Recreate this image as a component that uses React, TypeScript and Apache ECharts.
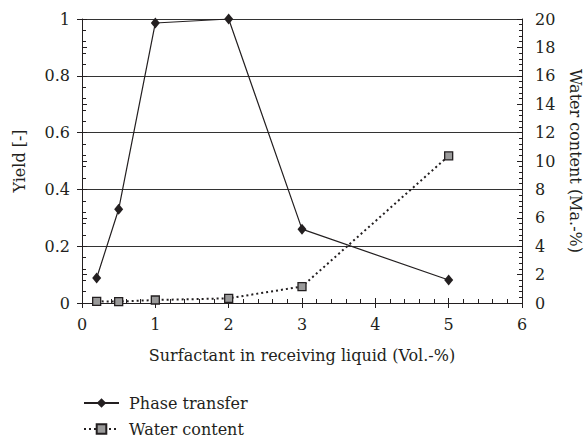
import React, { useEffect, useRef } from "react";
import * as echarts from "echarts";

const xValues = [0.2, 0.5, 1, 2, 3, 5];
const phaseTransfer = [0.088, 0.33, 0.986, 1.0, 0.26, 0.081];
const waterContent = [0.12, 0.1, 0.21, 0.33, 1.16, 10.36];
const seriesNames = ["Phase transfer", "Water content"];
const xName = "Surfactant in receiving liquid (Vol.-%)";
const yLeftName = "Yield [-]";
const yRightName = "Water content (Ma.-%)";

const FONT = "DejaVu Serif";
const TEXT = "#231f20";
const LINE = "#231f20";

export default function App() {
  const ref = useRef<HTMLDivElement>(null);
  useEffect(() => {
    if (!ref.current) return;
    const chart = echarts.init(ref.current, undefined, { renderer: "svg" });
    const labelStyle = { fontFamily: FONT, fontSize: 16, color: TEXT };
    const nameStyle = { fontFamily: FONT, fontSize: 16, color: TEXT };
    const lineStyle = { color: LINE, width: 1 };
    const legendBase = {
      orient: "vertical",
      left: 78,
      itemWidth: 35,
      itemHeight: 12,
      formatter: (name: string) => " " + name,
      textStyle: { fontFamily: FONT, fontSize: 16, color: TEXT },
    };
    const tickAxis = (
      position: string,
      min: number,
      max: number,
      interval: number,
      inside: boolean,
      length: number
    ) => ({
      type: "value",
      position,
      min,
      max,
      interval,
      axisLine: { show: false },
      axisTick: { show: true, inside, length, lineStyle },
      axisLabel: { show: false },
      splitLine: { show: false },
    });
    chart.setOption({
      animation: false,
      backgroundColor: "#fff",
      textStyle: { fontFamily: FONT },
      grid: {
        left: 82,
        right: 63,
        top: 19,
        bottom: 135,
        containLabel: false,
        outerBoundsMode: "none",
      },
      legend: [
        { ...legendBase, top: 390, data: [seriesNames[0]] },
        { ...legendBase, top: 416, data: [seriesNames[1]] },
      ],
      xAxis: [
        {
          type: "value",
          min: 0,
          max: 6,
          interval: 1,
          name: xName,
          nameLocation: "middle",
          nameGap: 44,
          nameTextStyle: nameStyle,
          axisLine: { show: true, onZero: false, lineStyle },
          axisTick: { show: true, inside: true, length: 5, lineStyle },
          axisLabel: { ...labelStyle, margin: 13 },
          splitLine: { show: false },
        },
        tickAxis("bottom", 0, 6, 1, false, 5),
        tickAxis("bottom", 0, 6, 0.2, true, 4),
      ],
      yAxis: [
        {
          type: "value",
          position: "left",
          min: 0,
          max: 1,
          interval: 0.2,
          name: yLeftName,
          nameLocation: "middle",
          nameGap: 55,
          nameTextStyle: nameStyle,
          axisLine: { show: true, onZero: false, lineStyle },
          axisTick: { show: true, inside: true, length: 5, lineStyle },
          axisLabel: { ...labelStyle, margin: 12 },
          splitLine: { show: true, lineStyle: { color: "#333", width: 1 } },
        },
        {
          type: "value",
          position: "right",
          min: 0,
          max: 20,
          interval: 2,
          name: yRightName,
          nameLocation: "middle",
          nameRotate: -90,
          nameGap: 45,
          nameTextStyle: nameStyle,
          axisLine: { show: true, onZero: false, lineStyle },
          axisTick: { show: true, inside: true, length: 5, lineStyle },
          axisLabel: { ...labelStyle, margin: 13 },
          splitLine: { show: false },
        },
        tickAxis("left", 0, 1, 0.2, false, 5),
        tickAxis("right", 0, 20, 2, false, 5),
        tickAxis("left", 0, 1, 0.04, true, 4),
        tickAxis("right", 0, 20, 0.4, true, 3),
      ],
      series: [
        {
          name: seriesNames[0],
          type: "line",
          xAxisIndex: 0,
          yAxisIndex: 0,
          data: xValues.map((x, i) => [x, phaseTransfer[i]]),
          symbol: "diamond",
          symbolSize: [9, 11],
          itemStyle: { color: "#231f20" },
          lineStyle: { color: "#231f20", width: 1.2 },
          z: 3,
        },
        {
          name: seriesNames[1],
          type: "line",
          xAxisIndex: 0,
          yAxisIndex: 1,
          data: xValues.map((x, i) => [x, waterContent[i]]),
          symbol: "rect",
          symbolSize: 8,
          itemStyle: { color: "#9a9a9a", borderColor: "#231f20", borderWidth: 1.3 },
          lineStyle: { color: "#231f20", width: 2, type: [2, 3] },
          z: 4,
        },
      ],
    });
    return () => chart.dispose();
  }, []);
  return (
    <div
      ref={ref}
      style={{ position: "fixed", left: 0, top: 0, width: 585, height: 438 }}
    />
  );
}
